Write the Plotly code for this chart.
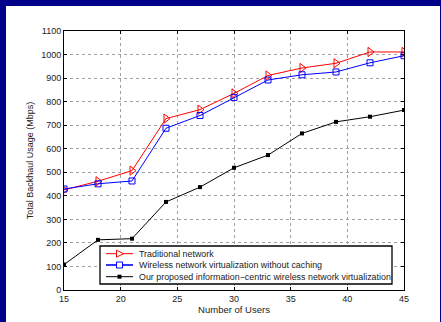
import plotly.graph_objects as go

users = [15, 18, 21, 24, 27, 30, 33, 36, 39, 42, 45]
traditional = [425, 462, 507, 728, 766, 835, 911, 943, 963, 1011, 1011]
wnv_no_cache = [429, 451, 463, 687, 741, 818, 892, 914, 926, 965, 995]
proposed = [108, 213, 218, 374, 437, 519, 573, 665, 714, 736, 764]

series_names = ["Traditional network",
                "Wireless network virtualization without caching",
                "Our proposed information\u2212centric wireless network virtualization"]
series_colors = ["#FF0000", "#0000FF", "#000000"]

x_ticks = [15, 20, 25, 30, 35, 40, 45]
y_ticks = list(range(0, 1101, 100))

FONT = "Liberation Sans, Arial, sans-serif"
NAVY = "#00008B"
TXT = "#222222"

fig = go.Figure()
fig.add_trace(go.Scatter(x=users, y=traditional, mode="lines+markers",
                         name=series_names[0], showlegend=False,
                         line=dict(color=series_colors[0], width=1),
                         marker=dict(symbol="triangle-right-open", size=8, color=series_colors[0],
                                     line=dict(width=1, color=series_colors[0]))))
fig.add_trace(go.Scatter(x=users, y=wnv_no_cache, mode="lines+markers",
                         name=series_names[1], showlegend=False,
                         line=dict(color=series_colors[1], width=1),
                         marker=dict(symbol="square-open", size=6, color=series_colors[1],
                                     line=dict(width=1, color=series_colors[1]))))
fig.add_trace(go.Scatter(x=users, y=proposed, mode="lines+markers",
                         name=series_names[2], showlegend=False,
                         line=dict(color=series_colors[2], width=1),
                         marker=dict(symbol="square", size=4, color=series_colors[2])))

L, R, T, B = 64, 37, 31, 32
W, H = 441, 322
pw, ph = W - L - R, H - T - B


def px(x):
    return (x - L) / pw


def py(y):
    return (H - B - y) / ph


# white page on navy frame
fig.add_shape(type="rect", xref="paper", yref="paper", layer="below",
              x0=px(6), x1=px(440), y0=py(330), y1=py(6),
              fillcolor="white", line=dict(width=0))

# custom legend box
fig.add_shape(type="rect", xref="paper", yref="paper",
              x0=px(100), x1=px(392), y0=py(284), y1=py(246),
              fillcolor="white", line=dict(color="black", width=1.3))

rows_y = [253.7, 265.0, 276.7]
lx0, lx1, mx, tx = 106, 133, 119.5, 136.5
for i, (name, col) in enumerate(zip(series_names, series_colors)):
    yy = rows_y[i]
    fig.add_shape(type="line", xref="paper", yref="paper",
                  x0=px(lx0), x1=px(lx1), y0=py(yy), y1=py(yy),
                  line=dict(color=col, width=1 if i != 1 else 1.6))
    if i == 0:
        path = (f"M {px(mx-3)},{py(yy-3.5)} L {px(mx+4)},{py(yy)} "
                f"L {px(mx-3)},{py(yy+3.5)} Z")
        fig.add_shape(type="path", xref="paper", yref="paper", path=path,
                      fillcolor="white", line=dict(color=col, width=1))
    elif i == 1:
        fig.add_shape(type="rect", xref="paper", yref="paper",
                      x0=px(mx-3), x1=px(mx+3), y0=py(yy+3), y1=py(yy-3),
                      fillcolor="white", line=dict(color=col, width=1))
    else:
        fig.add_shape(type="rect", xref="paper", yref="paper",
                      x0=px(mx-2), x1=px(mx+2), y0=py(yy+2), y1=py(yy-2),
                      fillcolor=col, line=dict(color=col, width=0))
    fig.add_annotation(xref="paper", yref="paper", x=px(tx), y=py(yy),
                       xanchor="left", yanchor="middle", showarrow=False,
                       text=name, font=dict(family=FONT, size=8.9, color=TXT))

axis_common = dict(showline=True, linecolor="black", linewidth=1, mirror="ticks",
                   ticks="inside", ticklen=3, tickcolor="black",
                   showgrid=True, gridcolor="#A0A0A0", griddash="dot", gridwidth=1,
                   zeroline=False, tickfont=dict(family=FONT, size=9, color=TXT))

fig.update_xaxes(range=[15, 45], tickvals=x_ticks,
                 title=dict(text="Number of Users", font=dict(family=FONT, size=9.5, color=TXT),
                            standoff=0),
                 **axis_common)
fig.update_yaxes(range=[0, 1100], tickvals=y_ticks,
                 title=dict(text="Total Backhaul Usage (Mbps)", font=dict(family=FONT, size=9, color=TXT),
                            standoff=6),
                 **axis_common)

fig.update_layout(
    width=W, height=H,
    margin=dict(l=L, r=R, t=T, b=B, autoexpand=False),
    paper_bgcolor=NAVY, plot_bgcolor="white",
    font=dict(family=FONT, size=9, color=TXT),
    showlegend=False,
)

fig.write_html("out.html",
               config={"displayModeBar": False, "staticPlot": True},
               post_script="document.body.style.margin='0';document.body.style.overflow='hidden';")
